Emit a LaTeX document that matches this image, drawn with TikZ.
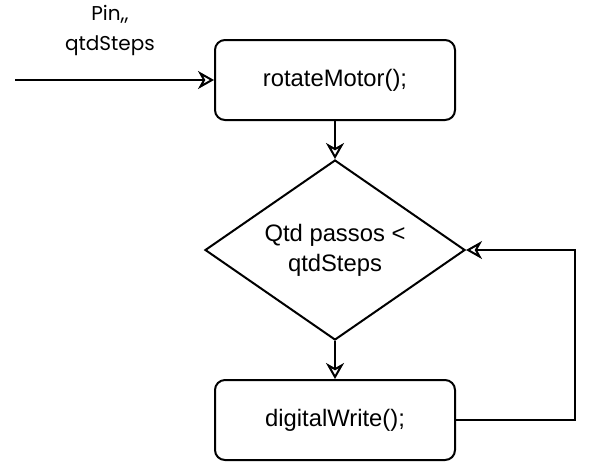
\documentclass[tikz,border=0pt]{standalone}
\usepackage{fontspec}
\setmainfont{Liberation Sans}
\newfontfamily\handfont{Poppins}
\usetikzlibrary{shapes.geometric, arrows.meta}

\begin{document}
\begin{tikzpicture}[x=0.5pt, y=-0.5pt, line width=1pt,
  procbox/.style={shape=rectangle, draw, rounded corners=5pt, minimum width=120pt, minimum height=40pt, font=\fontsize{11.9}{14}\selectfont},
  decision/.style={shape=diamond, draw, aspect=1.5, inner sep=0pt, minimum width=130pt, minimum height=90pt, align=center, font=\fontsize{11.9}{15}\selectfont},
  flow/.style={-{Stealth[open, length=8pt, width=9pt, inset=2.5pt]}}]
\useasboundingbox (0,0) rectangle (592,462);
\node[procbox] (rotate) at (335,80) {rotateMotor();};
\node[decision] (test) at (335,250) {Qtd passos <\\ qtdSteps};
\node[procbox] (write) at (335,420) {digitalWrite();};
\coordinate (input) at (15,80);
\coordinate (loopdown) at (575,420);
\coordinate (loopup) at (575,250);
\node[align=center, font=\handfont\fontsize{10}{15}\selectfont] (args) at (110,30) {Pin,,\\ qtdSteps};
\draw[flow] (input) -- (rotate);
\draw[flow] (rotate) -- (test);
\draw[flow] (test) -- (write);
\draw[flow] (write) -- (loopdown) -- (loopup) -- (test);
\end{tikzpicture}
\end{document}
